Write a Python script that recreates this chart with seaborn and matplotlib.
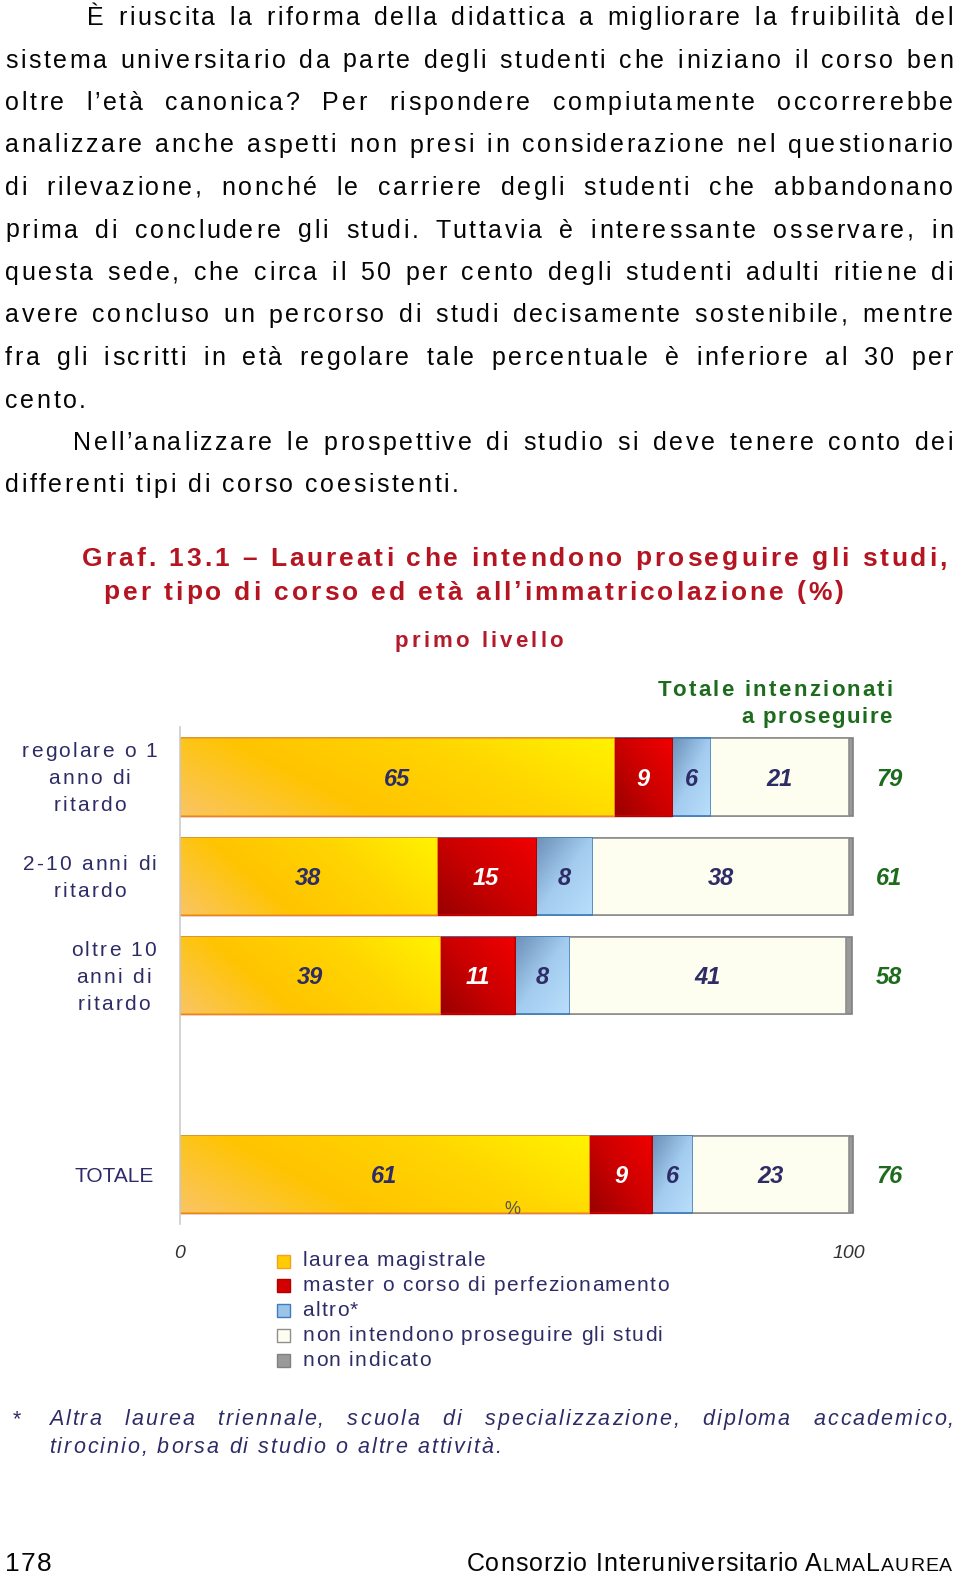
import numpy as np
import pandas as pd
import seaborn as sns
import matplotlib
matplotlib.use("Agg")
from matplotlib import pyplot as plt
from matplotlib.font_manager import FontProperties
from matplotlib.colors import LinearSegmentedColormap
from matplotlib.patches import Rectangle

W, H = 960, 1575
FONT = ["Liberation Sans", "DejaVu Sans"]

# dati (%)
righe = ["regolare o 1 anno di ritardo", "2-10 anni di ritardo", "oltre 10 anni di ritardo", "TOTALE"]
posizione = [0, 1, 2, 4]  # lo slot 3 resta vuoto come nell'originale
laurea_magistrale = [64.9, 38.4, 38.9, 61.2]
master = [8.7, 14.8, 11.2, 9.4]
altro = [5.7, 8.4, 8.1, 6.0]
non_proseguono = [20.7, 38.4, 41.3, 23.4]
non_indicato = [0.6, 0.6, 1.0, 0.6]
totale_intenzionati = [79, 61, 58, 76]
serie = ["laurea magistrale", "master o corso di perfezionamento", "altro*",
         "non intendono proseguire gli studi", "non indicato"]

ROSSO = "#b51520"
VERDE = "#1d6b1d"
NAVY = "#2e2c66"
NERO = "#050505"

stile = {
    "laurea magistrale": ("#FFCB05", "#F4A21E", 1.2),
    "master o corso di perfezionamento": ("#D30000", "#B00000", 1.0),
    "altro*": ("#9CC4E8", "#3D7DBF", 1.2),
    "non intendono proseguire gli studi": ("#FEFEF0", "#8E8E8E", 1.2),
    "non indicato": ("#9A9A9A", "#808080", 1.2),
}
# sfumature (colori, peso orizzontale, peso verticale)
sfumature = {
    "laurea magistrale": (["#FAC463", "#FFC400", "#FFD500", "#FFF200"], 0.75, 0.25),
    "master o corso di perfezionamento": (["#9A0000", "#CC0000", "#F00000"], 0.55, 0.45),
    "altro*": (["#6E91BA", "#A3CCEF", "#B9DEFB"], 0.5, -0.5),
}

sns.set_theme(style="white")
plt.rcParams["font.family"] = FONT

fig = plt.figure(figsize=(W / 100, H / 100), dpi=100)
fig.patch.set_facecolor("white")
renderer = fig.canvas.get_renderer()


def misura(s, prop):
    return renderer.get_text_width_height_descent(s, prop, ismath=False)[0]


def scrivi(x, y, s, size, color="black", weight="normal", style="normal",
           track=0.0, span=None, giustifica=False, ha="left", disegna=True):
    # testo spaziato (letter-spacing) carattere per carattere, y = linea di base in px
    prop = FontProperties(family=FONT, size=size, weight=weight, style=style)
    nat = misura(s, prop)
    n = len(s)
    nsp = s.count(" ")
    extra = 0.0
    if span is not None and n > 1:
        if giustifica and nsp:
            extra = (span - nat - (n - 1) * track) / nsp
            if extra < 0:
                extra = 0.0
                track = (span - nat) / (n - 1)
        else:
            track = (span - nat) / (n - 1)
    tot = nat + (n - 1) * track + nsp * extra
    if ha == "center":
        x -= tot / 2
    elif ha == "right":
        x -= tot
    if disegna:
        sp = 0
        for k, ch in enumerate(s):
            if ch == " ":
                sp += 1
                continue
            dx = misura(s[:k + 1], prop) - misura(ch, prop)
            fig.text((x + dx + k * track + sp * extra) / W, 1 - y / H, ch,
                     fontproperties=prop, color=color, va="baseline", ha="left")
    return tot, track


# testo della pagina
corpo = [
    ("È riuscita la riforma della didattica a migliorare la fruibilità del", 87, True),
    ("sistema universitario da parte degli studenti che iniziano il corso ben", 5, True),
    ("oltre l’età canonica? Per rispondere compiutamente occorrerebbe", 5, True),
    ("analizzare anche aspetti non presi in considerazione nel questionario", 5, True),
    ("di rilevazione, nonché le carriere degli studenti che abbandonano", 5, True),
    ("prima di concludere gli studi. Tuttavia è interessante osservare, in", 5, True),
    ("questa sede, che circa il 50 per cento degli studenti adulti ritiene di", 5, True),
    ("avere concluso un percorso di studi decisamente sostenibile, mentre", 5, True),
    ("fra gli iscritti in età regolare tale percentuale è inferiore al 30 per", 5, True),
    ("cento.", 5, False),
    ("Nell’analizzare le prospettive di studio si deve tenere conto dei", 73, True),
    ("differenti tipi di corso coesistenti.", 5, False),
]
for i, (riga, x0, giust) in enumerate(corpo):
    scrivi(x0, 25 + 42.5 * i, riga, 18, color=NERO, track=2.6,
           span=(953 - x0) if giust else None, giustifica=True)

# titolo
_, t_tit = scrivi(82, 565.5, "Graf. 13.1 – Laureati che intendono proseguire gli studi,", 19,
                  color=ROSSO, weight="bold", span=865)
scrivi(103.5, 599.5, "per tipo di corso ed età all’immatricolazione (%)", 19,
       color=ROSSO, weight="bold", track=t_tit)
scrivi(479, 647, "primo livello", 16, color="#b31b2c", weight="bold", span=168, ha="center")
scrivi(893, 696, "Totale intenzionati", 16, color=VERDE, weight="bold", span=235, ha="right")
scrivi(892, 723, "a proseguire", 16, color=VERDE, weight="bold", span=151, ha="right")

# grafico
ax = fig.add_axes([179.5 / W, 1 - 1224 / H, 682.9 / W, 496.5 / H])
df = pd.DataFrame({"pos": posizione,
                   serie[0]: laurea_magistrale, serie[1]: master, serie[2]: altro,
                   serie[3]: non_proseguono, serie[4]: non_indicato})
cum = df[serie].cumsum(axis=1)
inizio = cum.shift(1, axis=1).fillna(0)

# barre sovrapposte: dal cumulato piu lungo al piu corto
for nome in reversed(serie):
    face, edge, lw = stile[nome]
    sns.barplot(x=cum[nome].values, y=df["pos"].values, orient="y", native_scale=True,
                width=0.78, color=face, edgecolor=edge, linewidth=lw, saturation=1,
                errorbar=None, ax=ax)

ax.set_xlim(0, 102)
ax.set_ylim(4.5, -0.5)
px_x = 102 / 682.9
px_y = 5 / 496.5
uu, vv = np.meshgrid(np.linspace(0, 1, 200), np.linspace(0, 1, 40))
for nome, (cols, wu, wv) in sfumature.items():
    t = wu * uu + wv * vv
    t = (t - t.min()) / (t.max() - t.min())
    img = LinearSegmentedColormap.from_list(nome, cols)(t)
    for r, pos in enumerate(posizione):
        a, b = inizio[nome][r], cum[nome][r]
        ax.imshow(img, extent=(a + px_x, b - px_x, pos + 0.39 - 1.2 * px_y, pos - 0.39 + 1.2 * px_y),
                  origin="lower", aspect="auto", interpolation="bilinear", zorder=1.5)

for r, pos in enumerate(posizione):
    for i, nome in enumerate(serie[:4]):
        val = df[nome][r]
        ax.annotate(f"{val:.0f}", xy=(inizio[nome][r] + val / 2, pos), xytext=(0, -6.2),
                    textcoords="offset points", ha="center", va="baseline", fontsize=17,
                    fontweight="bold", fontstyle="italic",
                    color="white" if i == 1 else NAVY, zorder=4)
    ax.annotate(f"{totale_intenzionati[r]}", xy=(106, pos), xytext=(0, -6.2),
                textcoords="offset points", ha="center", va="baseline", fontsize=17,
                fontweight="bold", fontstyle="italic", color=VERDE, zorder=4,
                annotation_clip=False)

ax.set_xlim(0, 102)
ax.set_ylim(4.5, -0.5)
ax.set_yticks([])
ax.set_ylabel("")
ax.set_xticks([0, 100])
ax.set_xticklabels(["0", "100"])
ax.tick_params(axis="x", length=0, pad=15, labelsize=14, labelcolor="#333333")
for lab in ax.get_xticklabels():
    lab.set_fontstyle("italic")
ax.set_xlabel("%", fontsize=13, color="#555555")
ax.xaxis.set_label_coords(0.487, 0.046)
ax.xaxis.set_zorder(3)
ax.set_facecolor("white")
sns.despine(ax=ax, left=False, bottom=True)
ax.spines["left"].set_color("#cccccc")
ax.spines["left"].set_linewidth(1.2)

# etichette delle righe
etichette = [["regolare o 1", "anno di", "ritardo"], ["2-10 anni di", "ritardo"],
             ["oltre 10", "anni di", "ritardo"]]
centri_x = [89.5, 89.5, 113.5]
for r, linee in enumerate(etichette):
    yc = H - ax.transData.transform((0, posizione[r]))[1]
    for j, linea in enumerate(linee):
        yb = yc - (len(linee) - 1) * 27 / 2 + 27 * j + 7
        scrivi(centri_x[r], yb, linea, 15, color=NAVY, track=2.2, ha="center")
yc = H - ax.transData.transform((0, posizione[3]))[1]
fig.text(114 / W, 1 - (yc + 8) / H, righe[3], fontsize=15, color=NAVY, ha="center", va="baseline")

# legenda
for j, nome in enumerate(serie):
    yb = 1266 + 24.9 * j
    face, edge, lw = stile[nome]
    fig.add_artist(Rectangle((277 / W, 1 - (yb + 1.5) / H), 13 / W, 13 / H,
                             transform=fig.transFigure, facecolor=face, edgecolor=edge, linewidth=1.0))
    scrivi(302.5, yb, nome, 15, color=NAVY, track=1.4)

# nota
scrivi(12, 1425, "*", 15.5, color=NAVY, style="italic")
scrivi(49, 1425, "Altra laurea triennale, scuola di specializzazione, diploma accademico,", 15.5,
       color=NAVY, style="italic", track=2.0, span=905, giustifica=True)
scrivi(49, 1453, "tirocinio, borsa di studio o altre attività.", 15.5, color=NAVY, style="italic", track=2.0)

# pie di pagina
scrivi(5, 1571, "178", 19, color=NERO, track=1.0)
pezzi = [("Consorzio Interuniversitario A", 18), ("LMA", 14), ("L", 18), ("AUREA", 14)]
larg = [scrivi(0, 0, s, sz, track=1.0, disegna=False)[0] for s, sz in pezzi]
x = 952 - sum(larg) - 1.0 * (len(pezzi) - 1)
for (s, sz), lw_ in zip(pezzi, larg):
    scrivi(x, 1571, s, sz, color=NERO, track=1.0)
    x += lw_ + 1.0

fig.savefig("out.png", dpi=100, facecolor="white")
